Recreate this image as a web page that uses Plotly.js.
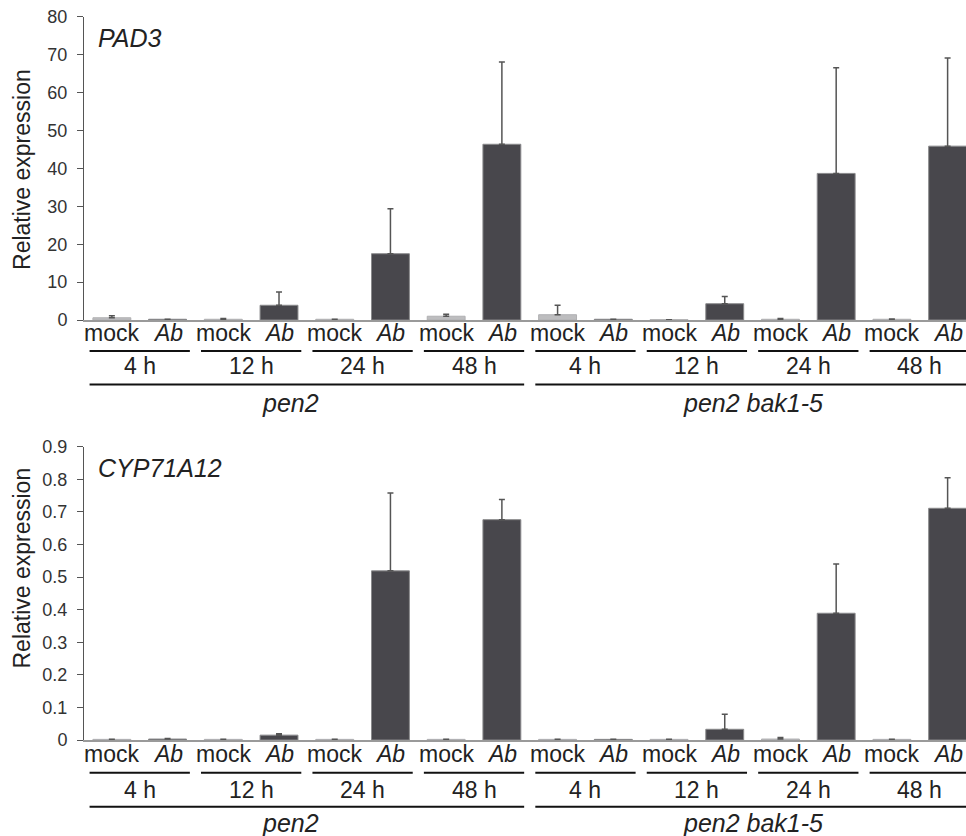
<!DOCTYPE html>
<html>
<head>
<meta charset="utf-8">
<script src="https://cdn.plot.ly/plotly-3.0.1.min.js"></script>
<style>html,body{margin:0;padding:0;background:#fff;}#chart{width:966px;height:836px;}</style>
</head>
<body>
<div id="chart"></div>
<script>
// ---- data ----
const treatments = ['mock', 'Ab'];
const times = ['4 h', '12 h', '24 h', '48 h'];
const genotypes = ['pen2', 'pen2 bak1-5'];
const genes = ['PAD3', 'CYP71A12'];

// order: genotype -> time -> treatment (mock, Ab)
const pad3Mean = [0.6, 0.2, 0.2, 3.9, 0.2, 17.5, 1.0, 46.4, 1.4, 0.2, 0.1, 4.3, 0.2, 38.7, 0.2, 45.9];
const pad3Err  = [0.5, 0.0, 0.2, 3.5, 0.0, 11.9, 0.5, 21.7, 2.5, 0.0, 0.0, 1.9, 0.2, 27.9, 0.1, 23.3];
const cypMean  = [0.002, 0.003, 0.002, 0.015, 0.002, 0.519, 0.002, 0.676, 0.002, 0.002, 0.002, 0.033, 0.003, 0.389, 0.002, 0.711];
const cypErr   = [0.000, 0.002, 0.000, 0.004, 0.000, 0.239, 0.000, 0.062, 0.000, 0.000, 0.000, 0.046, 0.005, 0.151, 0.000, 0.094];

const yTicksPad3 = [0, 10, 20, 30, 40, 50, 60, 70, 80];
const yTicksCyp = [0, 0.1, 0.2, 0.3, 0.4, 0.5, 0.6, 0.7, 0.8, 0.9];

// ---- build ----
const labels = [];
genotypes.forEach(g => times.forEach(t => treatments.forEach(tr => labels.push({g, t, tr}))));
const xs = labels.map((_, i) => i);
const barColors = labels.map(l => l.tr === 'mock' ? '#bdbdbf' : '#48474c');
const lineColors = labels.map(l => l.tr === 'mock' ? '#b0b0b2' : '#8a8a8c');

const FONT = 'Liberation Sans, Arial, Helvetica, sans-serif';
const TXT = '#222';

function barTrace(mean, err, xa, ya) {
  return {
    type: 'bar', x: xs, y: mean, xaxis: xa, yaxis: ya, width: 0.68,
    marker: {color: barColors, line: {color: lineColors, width: 1}},
    error_y: {type: 'data', array: err, arrayminus: err.map(() => 0), symmetric: false,
              color: '#555', thickness: 1.5, width: 3},
    showlegend: false, hoverinfo: 'x+y'
  };
}

const data = [barTrace(pad3Mean, pad3Err, 'x', 'y'), barTrace(cypMean, cypErr, 'x2', 'y2')];

const annotations = [];
const shapes = [];

// panel geometry in paper units (label rows)
const panels = [
  {xref: 'x', labelY: 0.6017, lineY: 0.5801, timeY: 0.5622, longY: 0.5401, genoY: 0.5179,
   titleY: 0.7967, geneY: 0.955},
  {xref: 'x2', labelY: 0.0981, lineY: 0.0757, timeY: 0.0550, longY: 0.0350, genoY: 0.0156,
   titleY: 0.320, geneY: 0.4405}
];
const genoLabelX = [3.2, 11.5];

panels.forEach((p, pi) => {
  labels.forEach((l, i) => {
    annotations.push({xref: p.xref, yref: 'paper', x: i, y: p.labelY, showarrow: false,
      text: l.tr === 'Ab' ? '<i>Ab</i>' : 'mock', xanchor: 'center', yanchor: 'middle',
      font: {family: FONT, size: 23, color: TXT}});
  });
  genotypes.forEach((g, gi) => {
    times.forEach((t, ti) => {
      const c = gi * 8 + ti * 2;
      shapes.push({type: 'line', xref: p.xref, yref: 'paper', x0: c - 0.4, x1: c + 1.4,
        y0: p.lineY, y1: p.lineY, line: {color: '#111', width: 2}});
      annotations.push({xref: p.xref, yref: 'paper', x: c + 0.5, y: p.timeY, showarrow: false,
        text: t, xanchor: 'center', yanchor: 'middle', font: {family: FONT, size: 23, color: TXT}});
    });
    shapes.push({type: 'line', xref: p.xref, yref: 'paper', x0: gi * 8 - 0.4, x1: gi * 8 + 7.4,
      y0: p.longY, y1: p.longY, line: {color: '#111', width: 2}});
    annotations.push({xref: p.xref, yref: 'paper', x: genoLabelX[gi], y: p.genoY, showarrow: false,
      text: '<i>' + g + '</i>', xanchor: 'center', yanchor: 'middle',
      font: {family: FONT, size: 25, color: TXT}});
  });
  annotations.push({xref: 'paper', yref: 'paper', x: 0.0228, y: p.titleY, showarrow: false,
    text: 'Relative expression', textangle: -90, xanchor: 'center', yanchor: 'middle',
    font: {family: FONT, size: 23, color: TXT}});
  annotations.push({xref: 'paper', yref: 'paper', x: 0.099, y: p.geneY, showarrow: false,
    text: '<i>' + genes[pi] + '</i>', xanchor: 'left', yanchor: 'middle',
    font: {family: FONT, size: 25, color: TXT}});
});

const xRange = [-0.5, 15.33];
const xCommon = {range: xRange, showline: true, linecolor: '#9a9a9a', linewidth: 1.5,
  showticklabels: false, ticks: '', showgrid: false, zeroline: false, fixedrange: true};
const yCommon = {showline: true, linecolor: '#555', linewidth: 1, ticks: 'outside', ticklen: 6,
  tickcolor: '#555', tickwidth: 1, showgrid: false, zeroline: false, ticklabelstandoff: 6,
  tickfont: {family: FONT, size: 18, color: '#333'}};

const layout = {
  width: 966, height: 836, margin: {l: 0, r: 0, t: 0, b: 0},
  paper_bgcolor: '#fff', plot_bgcolor: '#fff',
  xaxis: Object.assign({}, xCommon, {domain: [0.08696, 1], anchor: 'y'}),
  yaxis: Object.assign({}, yCommon, {domain: [0.6172, 0.9797], range: [0, 80],
    tickvals: yTicksPad3, ticktext: yTicksPad3.map(String), anchor: 'x'}),
  xaxis2: Object.assign({}, xCommon, {domain: [0.08696, 1], anchor: 'y2'}),
  yaxis2: Object.assign({}, yCommon, {domain: [0.1148, 0.4657], range: [0, 0.9],
    tickvals: yTicksCyp, ticktext: yTicksCyp.map(String), anchor: 'x2'}),
  annotations, shapes, bargap: 0.3
};

Plotly.newPlot('chart', data, layout, {staticPlot: true, displayModeBar: false});
</script>
</body>
</html>
